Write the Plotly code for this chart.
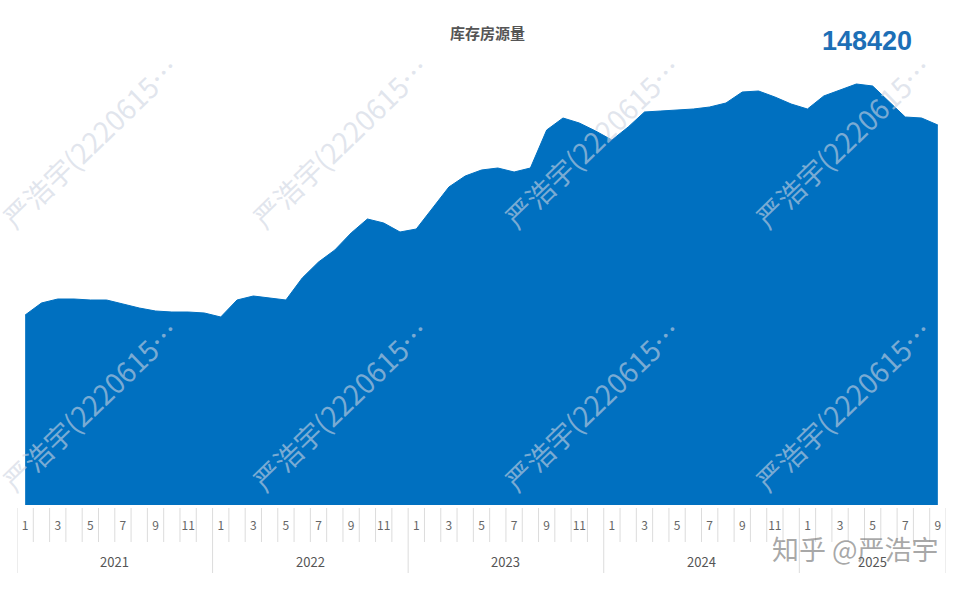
import plotly.graph_objects as go

years = [2021, 2022, 2023, 2024, 2025]
months_per_year = [12, 12, 12, 12, 9]
inventory = [
    74200, 78900, 80460, 80460, 80070, 80070, 78510, 76940, 75770, 75380, 75380, 74990,
    73430, 80070, 81630, 80850, 80070, 88660, 94910, 99600, 106240, 111710, 110140, 106630,
    107800, 116000, 124200, 128500, 130840, 131620, 130060, 131620, 146470, 151150, 149200, 146080,
    142560, 147640, 153500, 153890, 154280, 154670, 155450, 157010, 161310, 161700, 159360, 156620,
    154670, 159750, 162090, 164430, 163650, 157400, 151540, 151150, 148420,
]
title_text = "库存房源量"
latest_label = "148420"
watermark_text = "严浩宇(2220615…"
brand_text = "知乎 @严浩宇"

month_nums = []
for y, n in zip(years, months_per_year):
    month_nums += list(range(1, n + 1))
xs = list(range(len(inventory)))

W, H = 970, 590
ML, MR, MT, MB = 17, 24, 60, 85
pw, ph = W - ML - MR, H - MT - MB


def px_x(px):
    return (px - ML) / pw


def px_y(py):
    return (H - MB - py) / ph


fig = go.Figure()
fig.add_trace(go.Scatter(
    x=xs, y=inventory, mode="lines", fill="tozeroy",
    line=dict(color="#0070C0", width=1, shape="linear"),
    fillcolor="#0070C0", hoverinfo="skip", showlegend=False,
))

tickvals = [i for i, m in zip(xs, month_nums) if m % 2 == 1]
ticktext = [str(m) for m in month_nums if m % 2 == 1]

shapes = []
for i in range(len(xs) + 1):
    shapes.append(dict(type="line", xref="x", yref="paper", ysizemode="pixel", yanchor=0,
                       x0=i - 0.5, x1=i - 0.5, y0=-3, y1=-37,
                       line=dict(color="#dcdcdc", width=1), layer="above"))
bounds = [0]
for n in months_per_year:
    bounds.append(bounds[-1] + n)
for b in bounds:
    shapes.append(dict(type="line", xref="x", yref="paper", ysizemode="pixel", yanchor=0,
                       x0=b - 0.5, x1=b - 0.5, y0=-37, y1=-68,
                       line=dict(color="#dcdcdc", width=1), layer="above"))

annotations = []
for k, y in enumerate(years):
    cx = (bounds[k] + bounds[k + 1] - 1) / 2
    annotations.append(dict(x=cx, y=px_y(561), xref="x", yref="paper", text=str(y),
                            xanchor="center", yanchor="middle",
                            showarrow=False, font=dict(size=13, color="#555555",
                                                       family="Noto Sans CJK SC")))

annotations.append(dict(x=px_x(487), y=px_y(32), xref="paper", yref="paper",
                        xanchor="center", yanchor="middle",
                        text="<b>" + title_text + "</b>", showarrow=False,
                        font=dict(size=15, color="#555555", family="Noto Sans CJK SC")))
annotations.append(dict(x=px_x(867), y=px_y(41), xref="paper", yref="paper",
                        xanchor="center", yanchor="middle",
                        text="<b>" + latest_label + "</b>", showarrow=False,
                        font=dict(size=27, color="#1d6fb6", family="Liberation Sans")))

wm_centers = [(90, 142), (340, 142), (592, 142), (843, 142),
              (90, 405), (340, 405), (592, 405), (843, 405)]
for (px, py) in wm_centers:
    annotations.append(dict(x=px_x(px), y=px_y(py), xref="paper", yref="paper",
                            xanchor="center", yanchor="middle",
                            text=watermark_text, showarrow=False, textangle=-44,
                            font=dict(size=28, color="rgba(205,212,225,0.6)",
                                      family="Noto Sans CJK SC")))
annotations.append(dict(x=px_x(855), y=px_y(548), xref="paper", yref="paper",
                        xanchor="center", yanchor="middle",
                        text=brand_text, showarrow=False,
                        font=dict(size=27, color="rgba(110,110,110,0.6)",
                                  family="Noto Sans CJK SC")))

fig.update_layout(
    width=W, height=H,
    margin=dict(l=ML, r=MR, t=MT, b=MB, autoexpand=False),
    paper_bgcolor="white", plot_bgcolor="white",
    xaxis=dict(range=[-0.5, len(xs) - 0.5], tickvals=tickvals, ticktext=ticktext,
               showgrid=False, zeroline=False, showline=False, ticks="",
               ticklabelstandoff=12, automargin=False,
               tickfont=dict(size=12, color="#666666", family="Noto Sans CJK SC")),
    yaxis=dict(range=[0, ph * 148420 / 380], visible=False, showgrid=False,
               automargin=False),
    shapes=shapes, annotations=annotations, showlegend=False,
)

fig.write_html("out.html", config={"displayModeBar": False},
               post_script="document.body.style.margin='0';document.body.style.padding='0';")
